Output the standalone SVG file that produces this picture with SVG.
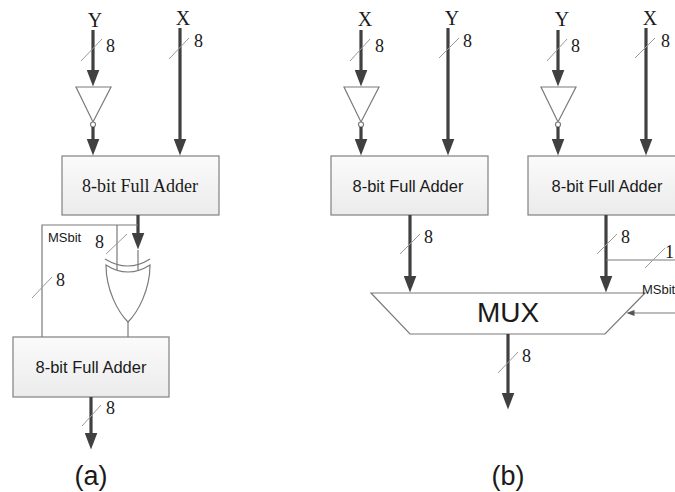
<svg xmlns="http://www.w3.org/2000/svg" width="675" height="492" viewBox="0 0 675 492">
<style>
.bg{fill:#ffffff}
.box{fill:url(#boxg);stroke:#808080;stroke-width:1.2}
.thick{stroke:#404040;stroke-width:3.2;fill:none}
.thin{stroke:#7a7a7a;stroke-width:1.2;fill:none}
.slash{stroke:#9a9a9a;stroke-width:1}
.gate{fill:#ffffff;stroke:#7a7a7a;stroke-width:1.2}
.serif{font-family:"Liberation Serif","Times New Roman",serif;fill:#1a1a1a}
.sans{font-family:"Liberation Sans",Arial,sans-serif;fill:#1a1a1a}
.lbl{font-size:20px;text-anchor:middle}
.num{font-size:18px}
.boxt{font-size:16.5px;text-anchor:middle}
.ms{font-size:13px}
.cap{font-size:27px;text-anchor:middle}
</style>
<defs>
<linearGradient id="boxg" x1="0" y1="0" x2="0" y2="1">
<stop offset="0" stop-color="#fbfbfb"/>
<stop offset="1" stop-color="#ebebeb"/>
</linearGradient>
<marker id="ah" markerUnits="userSpaceOnUse" markerWidth="17" markerHeight="13" viewBox="0 0 17 13" refX="0.5" refY="6.5" orient="auto">
<path d="M0,0 L17,6.5 L0,13 z" fill="#404040"/>
</marker>
<marker id="sah" markerUnits="userSpaceOnUse" markerWidth="8" markerHeight="6" viewBox="0 0 8 6" refX="0.5" refY="3" orient="auto">
<path d="M0,0 L8,3 L0,6 z" fill="#555555"/>
</marker>
</defs>
<rect class="bg" x="0" y="0" width="675" height="492"/>

<!-- (a) nodes -->
<g id="a-adder1">
<rect class="box" x="62" y="156" width="157" height="59"/>
<text class="serif" x="140" y="192" font-size="18" text-anchor="middle">8-bit Full Adder</text>
</g>
<g id="a-inv">
<polygon class="gate" points="76,87 111,87 93,122"/>
<circle class="gate" cx="93" cy="124.5" r="2.5"/>
</g>
<g id="a-xor">
<path class="thin" d="M105,259 Q128,273 150,259"/>
<path class="gate" d="M106,265 Q128,279 150,265 C150,290 138,312 128,322 C118,312 106,290 106,265 z"/>
</g>
<g id="a-adder2">
<rect class="box" x="13" y="337" width="156" height="60"/>
<text class="sans boxt" x="91" y="373">8-bit Full Adder</text>
</g>

<!-- (b) nodes -->
<g id="b-inv1">
<polygon class="gate" points="344,87 379,87 361,122"/>
<circle class="gate" cx="361" cy="124.5" r="2.5"/>
</g>
<g id="b-adder1">
<rect class="box" x="331" y="156" width="157" height="59"/>
<text class="sans boxt" x="408" y="192">8-bit Full Adder</text>
</g>
<g id="b-inv2">
<polygon class="gate" points="541,87 576,87 558,122"/>
<circle class="gate" cx="558" cy="124.5" r="2.5"/>
</g>
<g id="b-adder2">
<rect class="box" x="528" y="156" width="157" height="59"/>
<text class="sans boxt" x="607" y="192">8-bit Full Adder</text>
</g>
<g id="b-mux">
<polygon class="gate" points="371,293 645,293 605,334 410,334"/>
<text class="sans" x="508" y="322" font-size="28" text-anchor="middle">MUX</text>
</g>

<!-- connectors -->
<g id="connectors">
<!-- (a) -->
<line class="thick" x1="93" y1="30" x2="93" y2="70" marker-end="url(#ah)"/>
<line class="thick" x1="93" y1="127" x2="93" y2="139" marker-end="url(#ah)"/>
<line class="thick" x1="180" y1="28" x2="180" y2="139" marker-end="url(#ah)"/>
<line class="thick" x1="138" y1="215" x2="138" y2="233" marker-end="url(#ah)"/>
<line class="thin" x1="138" y1="250" x2="138" y2="270.5"/>
<polyline class="thin" points="138,225 42,225 42,337"/>
<line class="thin" x1="117" y1="225" x2="117" y2="270"/>
<line class="thin" x1="128" y1="322" x2="128" y2="337"/>
<line class="thick" x1="91" y1="397" x2="91" y2="433" marker-end="url(#ah)"/>
<!-- (b) -->
<line class="thick" x1="361" y1="30" x2="361" y2="70" marker-end="url(#ah)"/>
<line class="thick" x1="361" y1="127" x2="361" y2="139" marker-end="url(#ah)"/>
<line class="thick" x1="448" y1="28" x2="448" y2="139" marker-end="url(#ah)"/>
<line class="thick" x1="558" y1="30" x2="558" y2="70" marker-end="url(#ah)"/>
<line class="thick" x1="558" y1="127" x2="558" y2="139" marker-end="url(#ah)"/>
<line class="thick" x1="646" y1="28" x2="646" y2="139" marker-end="url(#ah)"/>
<line class="thick" x1="410" y1="215" x2="410" y2="276" marker-end="url(#ah)"/>
<line class="thick" x1="606" y1="215" x2="606" y2="276" marker-end="url(#ah)"/>
<line class="thin" x1="606" y1="260" x2="675" y2="260"/>
<line class="thin" x1="676" y1="313" x2="634" y2="313" marker-end="url(#sah)"/>
<line class="thick" x1="508" y1="334" x2="508" y2="393" marker-end="url(#ah)"/>
<!-- bus width slashes -->
<line class="slash" x1="81" y1="61" x2="102" y2="39"/>
<line class="slash" x1="169" y1="59" x2="189" y2="38"/>
<line class="slash" x1="106" y1="254" x2="127" y2="234"/>
<line class="slash" x1="32" y1="298" x2="52" y2="277"/>
<line class="slash" x1="82" y1="426" x2="101" y2="405"/>
<line class="slash" x1="350" y1="61" x2="370" y2="39"/>
<line class="slash" x1="439" y1="58" x2="459" y2="38"/>
<line class="slash" x1="547" y1="61" x2="567" y2="39"/>
<line class="slash" x1="635" y1="58" x2="655" y2="38"/>
<line class="slash" x1="400" y1="254" x2="420" y2="234"/>
<line class="slash" x1="597" y1="254" x2="617" y2="234"/>
<line class="slash" x1="645" y1="268" x2="665" y2="248"/>
<line class="slash" x1="498" y1="373" x2="518" y2="352"/>
</g>

<!-- labels -->
<g id="labels">
<text class="serif lbl" x="95" y="27">Y</text>
<text class="serif lbl" x="183" y="25">X</text>
<text class="serif lbl" x="365" y="26">X</text>
<text class="serif lbl" x="452" y="25">Y</text>
<text class="serif lbl" x="562" y="26">Y</text>
<text class="serif lbl" x="650" y="25">X</text>
<text class="serif num" x="106" y="52">8</text>
<text class="serif num" x="194" y="47">8</text>
<text class="serif num" x="95" y="248">8</text>
<text class="serif num" x="56" y="286">8</text>
<text class="serif num" x="106" y="414">8</text>
<text class="serif num" x="375" y="52">8</text>
<text class="serif num" x="463" y="47">8</text>
<text class="serif num" x="571" y="52">8</text>
<text class="serif num" x="661" y="47">8</text>
<text class="serif num" x="424" y="243">8</text>
<text class="serif num" x="621" y="243">8</text>
<text class="serif num" x="522" y="362">8</text>
<text class="serif num" x="665" y="258">1</text>
<text class="sans ms" x="48" y="242">MSbit</text>
<text class="sans ms" x="642" y="294">MSbit</text>
<text class="sans cap" x="91" y="485">(a)</text>
<text class="sans cap" x="508" y="485">(b)</text>
</g>
</svg>
